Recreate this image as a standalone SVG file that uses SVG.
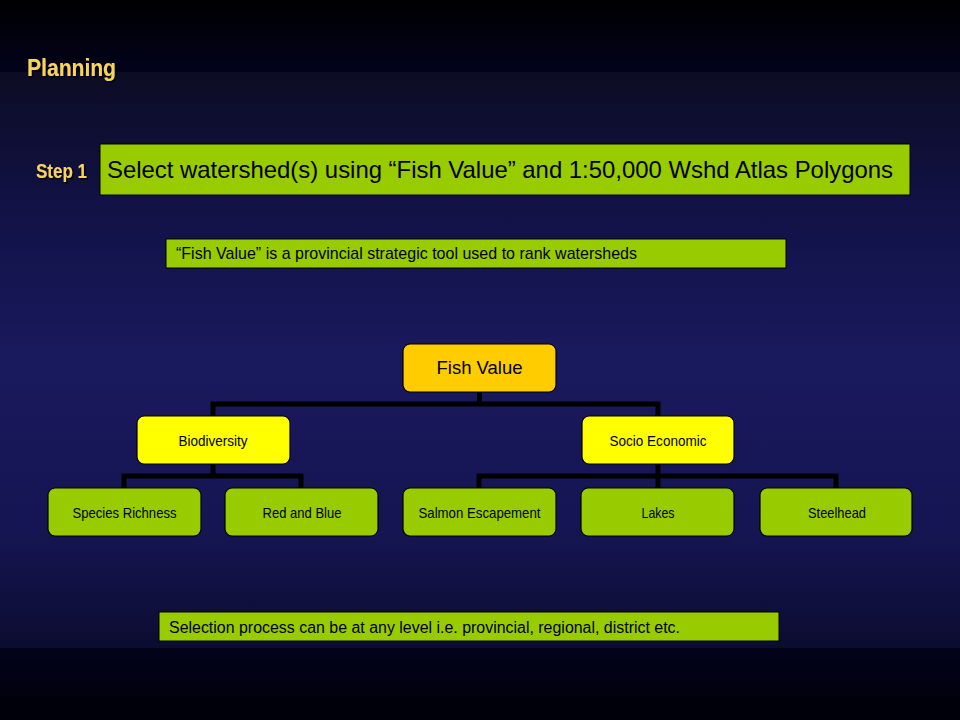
<svg xmlns="http://www.w3.org/2000/svg" width="960" height="720" viewBox="0 0 960 720">
<defs>
<linearGradient id="bgTop" x1="0" y1="0" x2="0" y2="1">
<stop offset="0" stop-color="#000000"/>
<stop offset="1" stop-color="#02021c"/>
</linearGradient>
<linearGradient id="bgMid" x1="0" y1="0" x2="0" y2="1">
<stop offset="0" stop-color="#0c0c24"/>
<stop offset="0.25" stop-color="#121248"/>
<stop offset="0.5" stop-color="#19195e"/>
<stop offset="0.8" stop-color="#151552"/>
<stop offset="1" stop-color="#0c0c30"/>
</linearGradient>
<linearGradient id="bgBot" x1="0" y1="0" x2="0" y2="1">
<stop offset="0" stop-color="#02021a"/>
<stop offset="1" stop-color="#000008"/>
</linearGradient>
<filter id="shadow" x="-10%" y="-10%" width="130%" height="140%">
<feDropShadow dx="1.5" dy="1.5" stdDeviation="0.6" flood-color="#000000" flood-opacity="0.9"/>
</filter>
</defs>
<style>
.title{font-family:"Liberation Sans",Arial,sans-serif;font-weight:bold;fill:#F8D45C;}
.bar{fill:#99CC00;stroke:#000000;stroke-width:1;}
.bartext{font-family:"Liberation Sans",Arial,sans-serif;fill:#000000;}
.node{stroke:#000000;stroke-width:1.2;}
.green{fill:#99CC00;}
.yellow{fill:#FFFF00;}
.orange{fill:#FFCC00;}
.label{font-family:"Liberation Sans",Arial,sans-serif;fill:#000000;text-anchor:middle;font-size:15px;}
.conn{fill:none;stroke:#000000;stroke-width:5;stroke-linejoin:miter;stroke-linecap:square;}
</style>
<rect x="0" y="0" width="960" height="72" fill="url(#bgTop)"/>
<rect x="0" y="72" width="960" height="576" fill="url(#bgMid)"/>
<rect x="0" y="648" width="960" height="72" fill="url(#bgBot)"/>

<text class="title" x="27" y="76" font-size="23" textLength="89" lengthAdjust="spacingAndGlyphs" filter="url(#shadow)">Planning</text>
<text class="title" x="36" y="178" font-size="19.5" textLength="51" lengthAdjust="spacingAndGlyphs" filter="url(#shadow)">Step 1</text>

<g id="step1-box">
<rect class="bar" x="100" y="144" width="810" height="51"/>
<text class="bartext" x="107" y="178" font-size="24" textLength="786" lengthAdjust="spacingAndGlyphs">Select watershed(s) using “Fish Value” and 1:50,000 Wshd Atlas Polygons</text>
</g>
<g id="note-box">
<rect class="bar" x="166" y="239" width="620" height="29" stroke="none"/>
<text class="bartext" x="176" y="259" font-size="17" textLength="461" lengthAdjust="spacingAndGlyphs">“Fish Value” is a provincial strategic tool used to rank watersheds</text>
</g>
<g id="selection-box">
<rect class="bar" x="159" y="612" width="620" height="29" stroke="none"/>
<text class="bartext" x="169" y="633" font-size="16" textLength="511" lengthAdjust="spacingAndGlyphs">Selection process can be at any level i.e. provincial, regional, district etc.</text>
</g>

<g id="connectors">
<path class="conn" d="M479.5 392 V404 M213 404 H658 M213 404 V416 M658 404 V416"/>
<path class="conn" d="M213 464 V476 M124 476 H301 M124 476 V488 M301 476 V488"/>
<path class="conn" d="M658 464 V476 M479 476 H836 M479 476 V488 M658 476 V488 M836 476 V488"/>
</g>

<g id="fish-value">
<rect class="node orange" x="403" y="344" width="153" height="48" rx="7"/>
<text class="label" x="479.5" y="374" style="font-size:18.5px">Fish Value</text>
</g>
<g id="biodiversity">
<rect class="node yellow" x="137" y="416" width="153" height="48" rx="7"/>
<text class="label" x="213" y="446" textLength="69" lengthAdjust="spacingAndGlyphs">Biodiversity</text>
</g>
<g id="socio-economic">
<rect class="node yellow" x="582" y="416" width="152" height="48" rx="7"/>
<text class="label" x="658" y="446" textLength="97" lengthAdjust="spacingAndGlyphs">Socio Economic</text>
</g>
<g id="species-richness">
<rect class="node green" x="48" y="488" width="153" height="48" rx="7"/>
<text class="label" x="124.5" y="518" textLength="104" lengthAdjust="spacingAndGlyphs">Species Richness</text>
</g>
<g id="red-and-blue">
<rect class="node green" x="225" y="488" width="153" height="48" rx="7"/>
<text class="label" x="302" y="518" textLength="79" lengthAdjust="spacingAndGlyphs">Red and Blue</text>
</g>
<g id="salmon-escapement">
<rect class="node green" x="403" y="488" width="153" height="48" rx="7"/>
<text class="label" x="479.5" y="518" textLength="122" lengthAdjust="spacingAndGlyphs">Salmon Escapement</text>
</g>
<g id="lakes">
<rect class="node green" x="581" y="488" width="153" height="48" rx="7"/>
<text class="label" x="658" y="518" textLength="33" lengthAdjust="spacingAndGlyphs">Lakes</text>
</g>
<g id="steelhead">
<rect class="node green" x="760" y="488" width="152" height="48" rx="7"/>
<text class="label" x="837" y="518" textLength="58" lengthAdjust="spacingAndGlyphs">Steelhead</text>
</g>
</svg>
